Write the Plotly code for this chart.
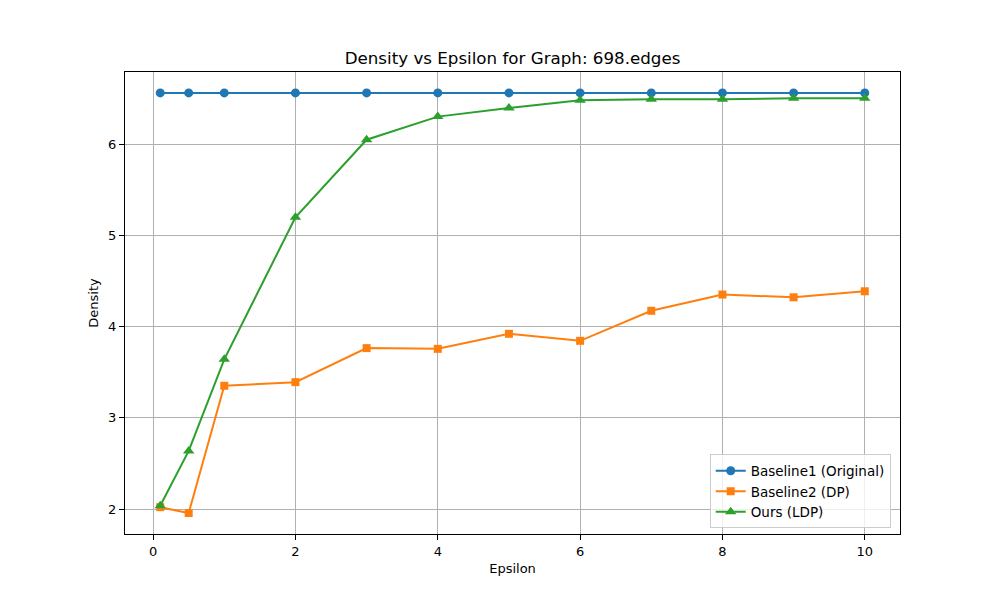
import plotly.graph_objects as go

epsilon = [0.1, 0.5, 1, 2, 3, 4, 5, 6, 7, 8, 9, 10]
baseline1 = [6.56] * 12
baseline2 = [2.02, 1.956, 3.35, 3.39, 3.763, 3.755, 3.92, 3.843, 4.172, 4.35, 4.32, 4.386]
ours = [2.036, 2.636, 3.64, 5.197, 6.047, 6.30, 6.395, 6.48, 6.49, 6.49, 6.50, 6.50]

series = [
    ("Baseline1 (Original)", baseline1, "#1f77b4", "circle", 9),
    ("Baseline2 (DP)", baseline2, "#ff7f0e", "square", 8),
    ("Ours (LDP)", ours, "#2ca02c", "triangle-up", 10),
]

fig = go.Figure()
for name, vals, color, sym, sz in series:
    fig.add_trace(go.Scatter(
        x=epsilon, y=vals, name=name, mode="lines+markers",
        line=dict(color=color, width=2),
        marker=dict(color=color, symbol=sym, size=sz),
    ))

font = "DejaVu Sans"
axis_style = dict(
    showline=True, linecolor="black", linewidth=1, mirror=True,
    ticks="outside", ticklen=5, tickcolor="black",
    showgrid=True, gridcolor="#b0b0b0", gridwidth=1, zeroline=False,
    tickfont=dict(family=font, size=13, color="black"),
)

# page body has an 8px margin, so the figure is shrunk to keep the axes where they belong
fig.update_layout(
    width=992, height=592,
    paper_bgcolor="white", plot_bgcolor="white",
    margin=dict(l=117, r=100, t=64, b=66),
    title=dict(text="Density vs Epsilon for Graph: 698.edges", x=0.5086, xanchor="center",
               y=0.9155, yanchor="middle", font=dict(family=font, size=16.7, color="black")),
    xaxis=dict(axis_style, range=[-0.395, 10.495], tickvals=[0, 2, 4, 6, 8, 10],
               title=dict(text="Epsilon", font=dict(family=font, size=13, color="black"), standoff=6)),
    yaxis=dict(axis_style, range=[1.726, 6.789], tickvals=[2, 3, 4, 5, 6],
               title=dict(text="Density", font=dict(family=font, size=13, color="black"), standoff=6)),
    legend=dict(x=0.988, y=0.012, xanchor="right", yanchor="bottom",
                bordercolor="#cccccc", borderwidth=1, bgcolor="rgba(255,255,255,0.8)",
                font=dict(family=font, size=13.5, color="black"), tracegroupgap=0),
    showlegend=True,
)

fig.write_html("out.html")
